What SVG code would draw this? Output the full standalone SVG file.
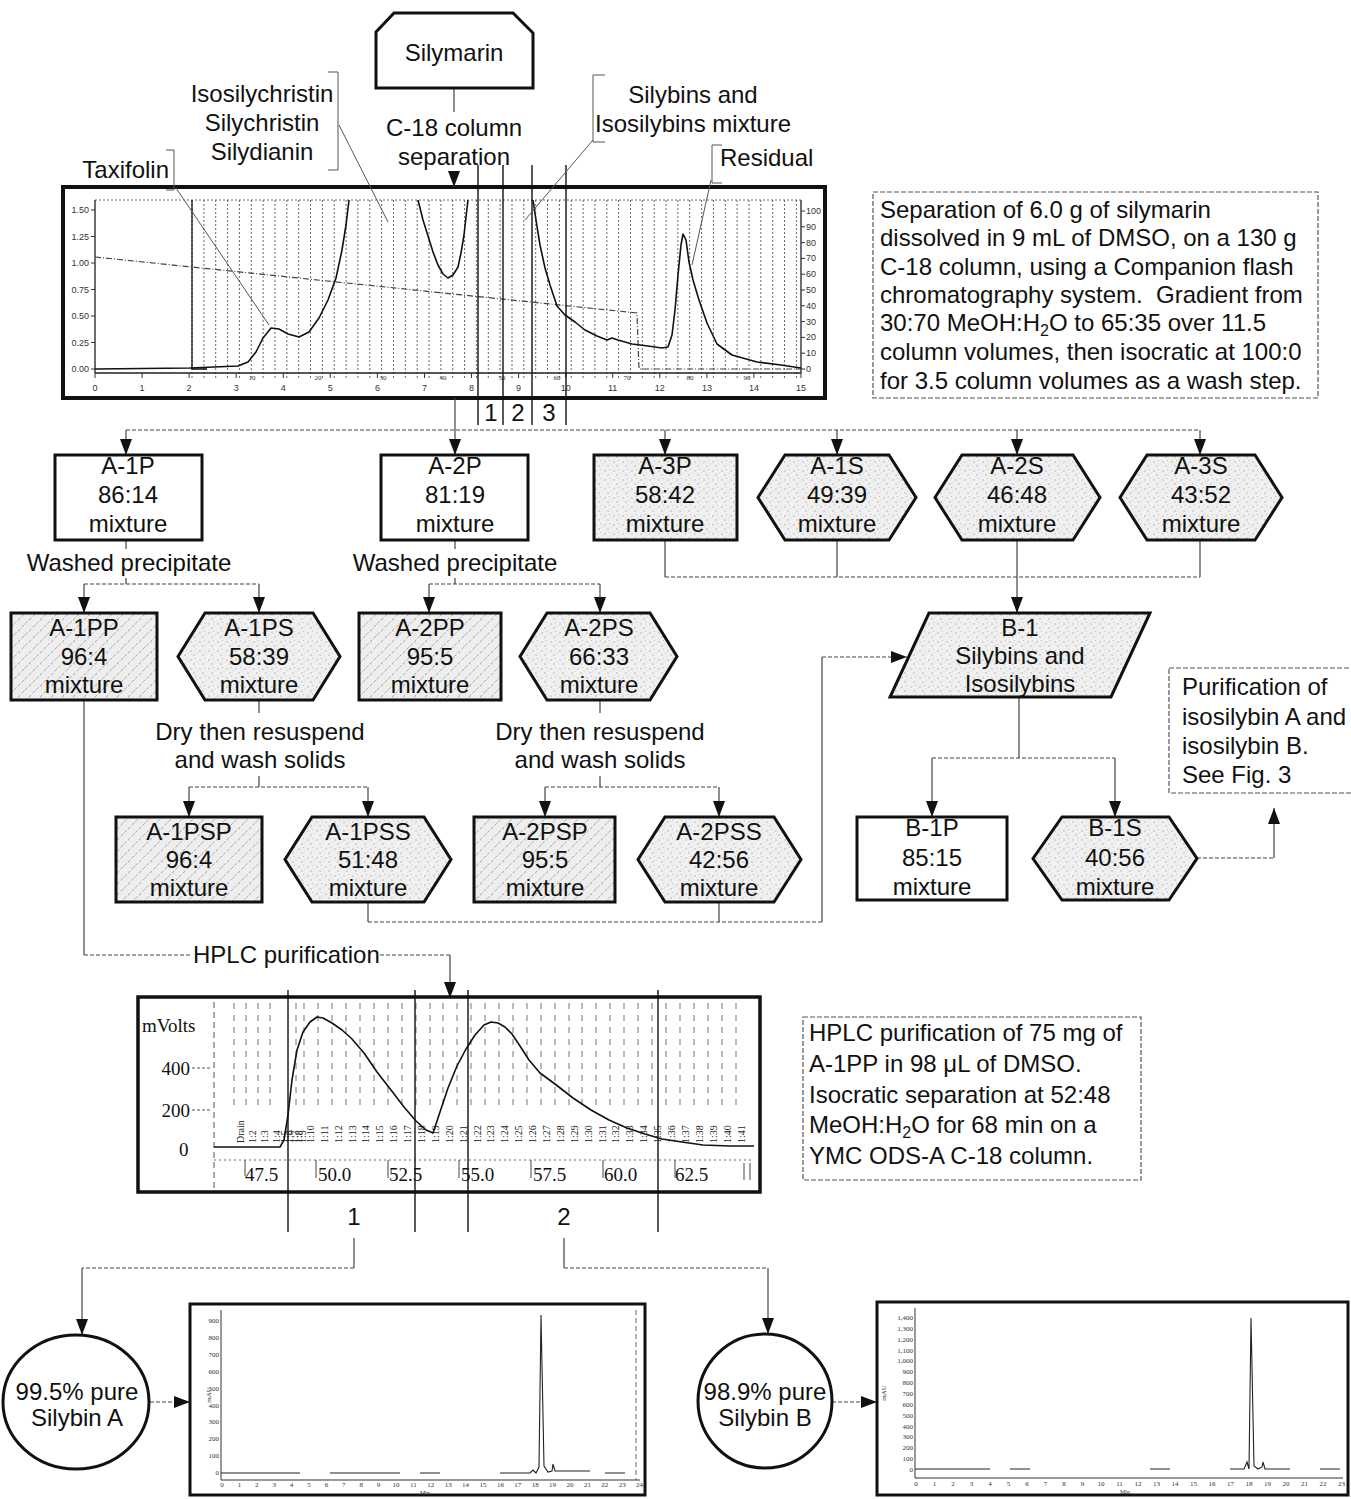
<svg xmlns="http://www.w3.org/2000/svg" width="1351" height="1499" viewBox="0 0 1351 1499">
<style>
.t{font-family:"Liberation Sans",Arial,sans-serif;font-size:24px;fill:#111}
.c{text-anchor:middle}
.e{text-anchor:end}
.pre{white-space:pre}
.sf{font-family:"Liberation Serif","Times New Roman",serif;font-size:19px;fill:#111}
.sm{font-family:"Liberation Sans",Arial,sans-serif;font-size:9px;fill:#333}
.xs{font-family:"Liberation Serif","Times New Roman",serif;font-size:7px;fill:#333}
.fr{font-family:"Liberation Serif","Times New Roman",serif;font-size:10px;fill:#222}
.node{stroke:#111;stroke-width:3;stroke-linejoin:miter}
.conn{stroke:#444;stroke-width:1.2;fill:none}
.dot{stroke-dasharray:4 2}
.arr{marker-end:url(#ah)}
.lead{stroke:#555;stroke-width:1;fill:none}
.note{fill:#fff;stroke:#555;stroke-width:1.2;stroke-dasharray:5 2}
.frame{fill:#fff;stroke:#111}
.curve{fill:none;stroke:#111;stroke-width:1.6;stroke-linejoin:round}
.grid{fill:none;stroke:#666;stroke-width:1;stroke-dasharray:2 2}
.cut{stroke:#111;stroke-width:1.4;fill:none}
</style>
<defs>
<pattern id="stip" width="9" height="9" patternUnits="userSpaceOnUse">
<rect width="9" height="9" fill="#f0f0f0"/>
<circle cx="2" cy="3" r="0.7" fill="#aaa"/>
<circle cx="6.5" cy="1.5" r="0.6" fill="#bbb"/>
<circle cx="5" cy="7" r="0.7" fill="#a5a5a5"/>
<circle cx="8" cy="5" r="0.5" fill="#c5c5c5"/>
</pattern>
<pattern id="hatch" width="11" height="11" patternUnits="userSpaceOnUse">
<rect width="11" height="11" fill="#eeeeee"/>
<circle cx="3" cy="8" r="0.6" fill="#bbb"/>
<circle cx="8" cy="4" r="0.6" fill="#bbb"/>
<path d="M-1 1L1 -1M0 11L11 0M10 12L12 10" stroke="#9a9a9a" stroke-width="0.8" stroke-dasharray="3 2"/>
</pattern>
<marker id="ah" viewBox="0 0 16 12" refX="16" refY="6" markerWidth="16" markerHeight="12" markerUnits="userSpaceOnUse" orient="auto">
<path d="M0,0L16,6L0,12z" fill="#111"/>
</marker>
</defs>

<rect width="1351" height="1499" fill="#fff"/>

<!-- Top chromatogram -->
<g id="chart1">
<rect class="frame" x="63" y="187" width="762" height="211" stroke-width="4"/>
<path class="grid" d="M192 200V378M203.9 200V378M215.7 200V378M227.6 200V378M239.4 200V378M251.3 200V378M263.1 200V378M275 200V378M286.8 200V378M298.7 200V378M310.5 200V378M322.4 200V378M334.2 200V378M346.1 200V378M357.9 200V378M369.8 200V378M381.6 200V378M393.5 200V378M405.3 200V378M417.2 200V378M429 200V378M440.9 200V378M452.7 200V378M464.6 200V378M476.4 200V378M488.3 200V378M500.1 200V378M512 200V378M523.8 200V378M535.7 200V378M547.5 200V378M559.4 200V378M571.2 200V378M583.1 200V378M594.9 200V378M606.8 200V378M618.6 200V378M630.5 200V378M642.3 200V378M654.2 200V378M666 200V378M677.9 200V378M689.7 200V378M701.6 200V378M713.4 200V378M725.3 200V378M737.1 200V378M749 200V378M760.8 200V378M772.7 200V378M784.5 200V378M796.4 200V378"/>
<path class="grid" d="M95 200H801"/>
<path d="M95 200V373M801 200V373M95 373H801" stroke="#222" stroke-width="1.3" fill="none"/>
<path d="M91 210H95M91 236.5H95M91 263H95M91 289.5H95M91 316H95M91 342.5H95M91 369H95M801 211H805M801 226.8H805M801 242.6H805M801 258.4H805M801 274.2H805M801 290H805M801 305.8H805M801 321.6H805M801 337.4H805M801 353.2H805M801 369H805M95 373V378M142.1 373V378M189.1 373V378M236.2 373V378M283.3 373V378M330.3 373V378M377.4 373V378M424.5 373V378M471.5 373V378M518.6 373V378M565.7 373V378M612.7 373V378M659.8 373V378M706.9 373V378M753.9 373V378M801 373V378" stroke="#333" stroke-width="1"/>
<path d="M192 200V369H207" stroke="#111" stroke-width="1.3" fill="none"/>
<path d="M95 257L637 313L639 369H801" fill="none" stroke="#444" stroke-width="1.2" stroke-dasharray="6 2 1 2"/>
<path class="curve" d="M95 369L190 368L238 366L248 362L256 352L263 338L271 328L279 329L288 334L299 337L309 332L319 318L328 300L336 278L342 250L346 225L349 200M418 200L423 220L428 236L433 252L438 265L443 274L448 278L453 275L458 267L461 253L464 235L466 217L468 200M533 200L536 220L540 245L545 268L550 285L557 306L565 315L575 322L585 330L597 336L607 340L612 338L618 340L632 344L648 346L662 348L668 347L672 335L675 310L678 275L681 245L683 234L686 240L689 262L693 280L699 300L707 323L717 344L732 355L757 362L781 365L801 368"/>
<g class="sm e">
<text x="89" y="213">1.50</text><text x="89" y="239.5">1.25</text><text x="89" y="266">1.00</text><text x="89" y="292.5">0.75</text><text x="89" y="319">0.50</text><text x="89" y="345.5">0.25</text><text x="89" y="372">0.00</text>
</g>
<g class="sm" font-size="8.5">
<text x="806" y="214">100</text><text x="806" y="229.8">90</text><text x="806" y="245.6">80</text><text x="806" y="261.4">70</text><text x="806" y="277.2">60</text><text x="806" y="293">50</text><text x="806" y="308.8">40</text><text x="806" y="324.6">30</text><text x="806" y="340.4">20</text><text x="806" y="356.2">10</text><text x="806" y="372">0</text>
</g>
<g class="sm c" font-size="10">
<text x="95" y="391">0</text><text x="142.1" y="391">1</text><text x="189.1" y="391">2</text><text x="236.2" y="391">3</text><text x="283.3" y="391">4</text><text x="330.3" y="391">5</text><text x="377.4" y="391">6</text><text x="424.5" y="391">7</text><text x="471.5" y="391">8</text><text x="518.6" y="391">9</text><text x="565.7" y="391">10</text><text x="612.7" y="391">11</text><text x="659.8" y="391">12</text><text x="706.9" y="391">13</text><text x="753.9" y="391">14</text><text x="801" y="391">15</text>
</g>
<g class="xs c" font-size="6">
<text x="252" y="380">10</text><text x="318" y="380">20</text><text x="383" y="380">30</text><text x="443" y="380">40</text><text x="502" y="380">50</text><text x="557" y="380">60</text><text x="627" y="380">70</text><text x="690" y="380">80</text><text x="747" y="380">90</text>
</g>
<path class="cut" d="M478 165V425M503 165V425M532 165V425M566 165V425"/>
<text class="t c" x="491" y="421">1</text>
<text class="t c" x="518" y="421">2</text>
<text class="t c" x="549" y="421">3</text>
</g>

<!-- Peak labels -->
<g id="label-taxifolin">
<text class="t e" x="169" y="178">Taxifolin</text>
<path class="lead" d="M166 150H174V190H166M176 188L269 325"/>
</g>
<g id="label-silychristin">
<text class="t c" x="262" y="102">Isosilychristin</text>
<text class="t c" x="262" y="131">Silychristin</text>
<text class="t c" x="262" y="160">Silydianin</text>
<path class="lead" d="M328 72H338V170H328M339 125L388 222"/>
</g>
<g id="label-silybins">
<text class="t c" x="693" y="103">Silybins and</text>
<text class="t c" x="693" y="132">Isosilybins mixture</text>
<path class="lead" d="M605 75H593V142H605M593 140L525 220"/>
</g>
<g id="label-residual">
<text class="t" x="720" y="166">Residual</text>
<path class="lead" d="M722 145H712V183H722M711 180L692 265"/>
</g>

<!-- Notes -->
<g id="note-separation">
<rect class="note" x="873" y="192" width="445" height="206"/>
<text class="t pre" x="880" y="218">Separation of 6.0 g of silymarin</text>
<text class="t pre" x="880" y="246">dissolved in 9 mL of DMSO, on a 130 g</text>
<text class="t pre" x="880" y="275">C-18 column, using a Companion flash</text>
<text class="t pre" x="880" y="303">chromatography system.  Gradient from</text>
<text class="t pre" x="880" y="331">30:70 MeOH:H<tspan font-size="16" dy="5">2</tspan><tspan dy="-5">O to 65:35 over 11.5</tspan></text>
<text class="t pre" x="880" y="360">column volumes, then isocratic at 100:0</text>
<text class="t pre" x="880" y="389">for 3.5 column volumes as a wash step.</text>
</g>
<g id="note-purification">
<rect class="note" x="1169" y="668" width="200" height="125"/>
<text class="t" x="1182" y="695">Purification of</text>
<text class="t" x="1182" y="725">isosilybin A and</text>
<text class="t" x="1182" y="754">isosilybin B.</text>
<text class="t" x="1182" y="783">See Fig. 3</text>
</g>
<g id="note-hplc">
<rect class="note" x="803" y="1017" width="338" height="163"/>
<text class="t" x="809" y="1041">HPLC purification of 75 mg of</text>
<text class="t" x="809" y="1072">A-1PP in 98 μL of DMSO.</text>
<text class="t" x="809" y="1103">Isocratic separation at 52:48</text>
<text class="t" x="809" y="1133">MeOH:H<tspan font-size="16" dy="5">2</tspan><tspan dy="-5">O for 68 min on a</tspan></text>
<text class="t" x="809" y="1164">YMC ODS-A C-18 column.</text>
</g>

<!-- Connectors -->
<g id="connectors">
<path class="conn" d="M454 88V112"/>
<text class="t c" x="454" y="136">C-18 column</text>
<text class="t c" x="454" y="165">separation</text>
<path class="conn arr" d="M454 171V187"/>
<path class="conn arr" d="M455 398V455"/>
<path class="conn dot" d="M126 430H1200"/>
<path class="conn arr" d="M126 430V455"/>
<path class="conn arr" d="M665 430V455"/>
<path class="conn arr" d="M837 430V455"/>
<path class="conn arr" d="M1017 430V455"/>
<path class="conn arr" d="M1200 430V455"/>
<path class="conn" d="M126 540V549M126 578V584M455 540V549M455 578V584"/>
<text class="t c" x="129" y="571">Washed precipitate</text>
<text class="t c" x="455" y="571">Washed precipitate</text>
<path class="conn dot" d="M84 584H259M429 584H600"/>
<path class="conn arr" d="M84 584V613"/>
<path class="conn arr" d="M259 584V613"/>
<path class="conn arr" d="M429 584V613"/>
<path class="conn arr" d="M600 584V613"/>
<path class="conn" d="M665 540V577M837 540V577M1200 540V577"/>
<path class="conn dot" d="M665 577H1200"/>
<path class="conn arr" d="M1017 540V613"/>
<path class="conn" d="M259 700V713M259 776V787M600 700V713M600 776V787"/>
<text class="t c" x="260" y="740">Dry then resuspend</text>
<text class="t c" x="260" y="768">and wash solids</text>
<text class="t c" x="600" y="740">Dry then resuspend</text>
<text class="t c" x="600" y="768">and wash solids</text>
<path class="conn dot" d="M189 787H368M545 787H719"/>
<path class="conn arr" d="M189 787V817"/>
<path class="conn arr" d="M368 787V817"/>
<path class="conn arr" d="M545 787V817"/>
<path class="conn arr" d="M719 787V817"/>
<path class="conn" d="M368 902V922M719 902V922"/>
<path class="conn dot" d="M368 922H822"/>
<path class="conn" d="M822 922V657"/>
<path class="conn dot arr" d="M822 657H907"/>
<path class="conn" d="M1019 697V758"/>
<path class="conn dot" d="M932 758H1115"/>
<path class="conn arr" d="M932 758V817"/>
<path class="conn arr" d="M1115 758V817"/>
<path class="conn dot" d="M1197 858H1274"/>
<path class="conn arr" d="M1274 858V808"/>
<path class="conn" d="M84 700V955"/>
<path class="conn dot" d="M84 955H190M380 955H450"/>
<text class="t" x="193" y="963">HPLC purification</text>
<path class="conn arr" d="M450 955V998"/>
<path class="conn" d="M354 1238V1268M564 1238V1268"/>
<path class="conn dot" d="M354 1268H82M564 1268H768"/>
<path class="conn arr" d="M82 1268V1335"/>
<path class="conn arr" d="M768 1268V1334"/>
<path class="conn dot arr" d="M150 1402H190"/>
<path class="conn dot arr" d="M832 1402H877"/>
</g>

<!-- Nodes -->
<g id="silymarin"><path class="node" d="M376 32L394 13H513L533 33V88H376Z" fill="#fff"/><text class="t c" x="454" y="61">Silymarin</text></g>

<g id="A-1P"><rect class="node" x="55" y="455" width="147" height="85" fill="#fff"/><text class="t c" x="128" y="474">A-1P</text><text class="t c" x="128" y="503">86:14</text><text class="t c" x="128" y="532">mixture</text></g>
<g id="A-2P"><rect class="node" x="381" y="455" width="147" height="85" fill="#fff"/><text class="t c" x="455" y="474">A-2P</text><text class="t c" x="455" y="503">81:19</text><text class="t c" x="455" y="532">mixture</text></g>
<g id="A-3P"><rect class="node" x="594" y="455" width="143" height="85" fill="url(#stip)"/><text class="t c" x="665" y="474">A-3P</text><text class="t c" x="665" y="503">58:42</text><text class="t c" x="665" y="532">mixture</text></g>
<g id="A-1S"><path class="node" d="M758 497.5L785 455H889L916 497.5L889 540H785Z" fill="url(#stip)"/><text class="t c" x="837" y="474">A-1S</text><text class="t c" x="837" y="503">49:39</text><text class="t c" x="837" y="532">mixture</text></g>
<g id="A-2S"><path class="node" d="M935 497.5L962 455H1073L1100 497.5L1073 540H962Z" fill="url(#stip)"/><text class="t c" x="1017" y="474">A-2S</text><text class="t c" x="1017" y="503">46:48</text><text class="t c" x="1017" y="532">mixture</text></g>
<g id="A-3S"><path class="node" d="M1120 497.5L1147 455H1255L1282 497.5L1255 540H1147Z" fill="url(#stip)"/><text class="t c" x="1201" y="474">A-3S</text><text class="t c" x="1201" y="503">43:52</text><text class="t c" x="1201" y="532">mixture</text></g>

<g id="A-1PP"><rect class="node" x="11" y="613" width="146" height="87" fill="url(#hatch)"/><text class="t c" x="84" y="636">A-1PP</text><text class="t c" x="84" y="665">96:4</text><text class="t c" x="84" y="693">mixture</text></g>
<g id="A-1PS"><path class="node" d="M178 656.5L205 613H313L340 656.5L313 700H205Z" fill="url(#stip)"/><text class="t c" x="259" y="636">A-1PS</text><text class="t c" x="259" y="665">58:39</text><text class="t c" x="259" y="693">mixture</text></g>
<g id="A-2PP"><rect class="node" x="359" y="613" width="142" height="87" fill="url(#hatch)"/><text class="t c" x="430" y="636">A-2PP</text><text class="t c" x="430" y="665">95:5</text><text class="t c" x="430" y="693">mixture</text></g>
<g id="A-2PS"><path class="node" d="M520 656.5L547 613H650L677 656.5L650 700H547Z" fill="url(#stip)"/><text class="t c" x="599" y="636">A-2PS</text><text class="t c" x="599" y="665">66:33</text><text class="t c" x="599" y="693">mixture</text></g>
<g id="B-1"><path class="node" d="M929 613H1150L1111 697H890Z" fill="url(#stip)"/><text class="t c" x="1020" y="636">B-1</text><text class="t c" x="1020" y="664">Silybins and</text><text class="t c" x="1020" y="692">Isosilybins</text></g>

<g id="A-1PSP"><rect class="node" x="116" y="817" width="146" height="85" fill="url(#hatch)"/><text class="t c" x="189" y="840">A-1PSP</text><text class="t c" x="189" y="868">96:4</text><text class="t c" x="189" y="896">mixture</text></g>
<g id="A-1PSS"><path class="node" d="M285 859.5L312 817H424L451 859.5L424 902H312Z" fill="url(#stip)"/><text class="t c" x="368" y="840">A-1PSS</text><text class="t c" x="368" y="868">51:48</text><text class="t c" x="368" y="896">mixture</text></g>
<g id="A-2PSP"><rect class="node" x="474" y="817" width="141" height="85" fill="url(#hatch)"/><text class="t c" x="545" y="840">A-2PSP</text><text class="t c" x="545" y="868">95:5</text><text class="t c" x="545" y="896">mixture</text></g>
<g id="A-2PSS"><path class="node" d="M638 859.5L665 817H774L801 859.5L774 902H665Z" fill="url(#stip)"/><text class="t c" x="719" y="840">A-2PSS</text><text class="t c" x="719" y="868">42:56</text><text class="t c" x="719" y="896">mixture</text></g>
<g id="B-1P"><rect class="node" x="857" y="817" width="150" height="83" fill="#fff"/><text class="t c" x="932" y="836">B-1P</text><text class="t c" x="932" y="866">85:15</text><text class="t c" x="932" y="895">mixture</text></g>
<g id="B-1S"><path class="node" d="M1033 858.5L1062 817H1169L1197 858.5L1169 900H1062Z" fill="url(#stip)"/><text class="t c" x="1115" y="836">B-1S</text><text class="t c" x="1115" y="866">40:56</text><text class="t c" x="1115" y="895">mixture</text></g>

<!-- HPLC chart -->
<g id="hplc-chart">
<rect class="frame" x="138" y="997" width="622" height="195" stroke-width="3.5"/>
<path d="M214 1002V1188" stroke="#555" stroke-width="1" stroke-dasharray="6 4"/>
<path d="M234 1003V1108M246 1003V1108M258 1003V1108M270 1003V1108M296 1003V1108M304 1003V1108M318 1003V1108M332 1003V1108M346 1003V1108M360 1003V1108M374 1003V1108M388 1003V1108M402 1003V1108M416 1003V1108M430 1003V1108M443 1003V1108M457 1003V1108M471 1003V1108M485 1003V1108M499 1003V1108M513 1003V1108M527 1003V1108M541 1003V1108M555 1003V1108M569 1003V1108M582 1003V1108M596 1003V1108M610 1003V1108M624 1003V1108M638 1003V1108M652 1003V1108M666 1003V1108M680 1003V1108M694 1003V1108M708 1003V1108M722 1003V1108M736 1003V1108" stroke="#777" stroke-width="1" stroke-dasharray="6 6"/>
<path d="M192 1068H212M192 1110H212" stroke="#555" stroke-width="1" stroke-dasharray="3 2"/>
<text class="sf" x="142" y="1032">mVolts</text>
<text class="sf e" x="190" y="1075">400</text>
<text class="sf e" x="190" y="1117">200</text>
<text class="sf" x="179" y="1156">0</text>
<path d="M214 1160H754" stroke="#666" stroke-width="1" stroke-dasharray="2 3"/>
<path d="M245 1160V1176M316 1160V1178M388 1160V1178M459 1160V1178M531 1160V1178M603 1160V1178M675 1160V1178M744 1163V1180M750 1163V1180" stroke="#444" stroke-width="1"/>
<g class="sf">
<text x="245" y="1181">47.5</text><text x="318" y="1181">50.0</text><text x="389" y="1181">52.5</text><text x="461" y="1181">55.0</text><text x="533" y="1181">57.5</text><text x="604" y="1181">60.0</text><text x="675" y="1181">62.5</text>
</g>
<g class="fr">
<text transform="translate(244 1143) rotate(-90)">Drain</text>
<text transform="translate(256 1143) rotate(-90)">1:2</text>
<text transform="translate(268 1143) rotate(-90)">1:3</text>
<text transform="translate(280 1143) rotate(-90)">1:4</text>
<text transform="translate(288 1143) rotate(-90)">1:5</text>
<text transform="translate(293 1143) rotate(-90)">1:6</text>
<text transform="translate(298 1143) rotate(-90)">1:7</text>
<text transform="translate(302 1143) rotate(-90)">1:8</text>
<text transform="translate(306 1143) rotate(-90)">1:9</text>
<text transform="translate(314 1143) rotate(-90)">1:10</text>
<text transform="translate(328 1143) rotate(-90)">1:11</text>
<text transform="translate(342 1143) rotate(-90)">1:12</text>
<text transform="translate(356 1143) rotate(-90)">1:13</text>
<text transform="translate(369 1143) rotate(-90)">1:14</text>
<text transform="translate(383 1143) rotate(-90)">1:15</text>
<text transform="translate(397 1143) rotate(-90)">1:16</text>
<text transform="translate(411 1143) rotate(-90)">1:17</text>
<text transform="translate(425 1143) rotate(-90)">1:18</text>
<text transform="translate(439 1143) rotate(-90)">1:19</text>
<text transform="translate(453 1143) rotate(-90)">1:20</text>
<text transform="translate(467 1143) rotate(-90)">1:21</text>
<text transform="translate(481 1143) rotate(-90)">1:22</text>
<text transform="translate(494 1143) rotate(-90)">1:23</text>
<text transform="translate(508 1143) rotate(-90)">1:24</text>
<text transform="translate(522 1143) rotate(-90)">1:25</text>
<text transform="translate(536 1143) rotate(-90)">1:26</text>
<text transform="translate(550 1143) rotate(-90)">1:27</text>
<text transform="translate(564 1143) rotate(-90)">1:28</text>
<text transform="translate(578 1143) rotate(-90)">1:29</text>
<text transform="translate(592 1143) rotate(-90)">1:30</text>
<text transform="translate(606 1143) rotate(-90)">1:31</text>
<text transform="translate(619 1143) rotate(-90)">1:32</text>
<text transform="translate(633 1143) rotate(-90)">1:33</text>
<text transform="translate(647 1143) rotate(-90)">1:34</text>
<text transform="translate(661 1143) rotate(-90)">1:35</text>
<text transform="translate(675 1143) rotate(-90)">1:36</text>
<text transform="translate(689 1143) rotate(-90)">1:37</text>
<text transform="translate(703 1143) rotate(-90)">1:38</text>
<text transform="translate(717 1143) rotate(-90)">1:39</text>
<text transform="translate(731 1143) rotate(-90)">1:40</text>
<text transform="translate(745 1143) rotate(-90)">1:41</text>
</g>
<path class="curve" stroke-width="2" d="M214 1147H280L284 1140L288 1115L292 1080L297 1050L303 1032L310 1022L317 1017L323 1018L332 1023L342 1030L352 1039L364 1053L377 1072L391 1090L404 1107L416 1121L426 1130L433 1133L440 1112L448 1088L457 1066L466 1049L475 1035L484 1025L491 1022L498 1023L505 1027L512 1034L520 1046L529 1060L540 1073L555 1084L573 1098L591 1110L609 1120L627 1128L645 1134L662 1139L682 1142L703 1145L730 1146L754 1146"/>
<path class="cut" d="M288 990V1232M415 990V1232M468 990V1232M658 990V1232"/>
<text class="t c" x="354" y="1225">1</text>
<text class="t c" x="564" y="1225">2</text>
</g>

<!-- Products -->
<g id="silybin-A"><ellipse class="node" cx="76" cy="1402" rx="73" ry="67" fill="#fff" stroke-width="2.5"/><text class="t c" x="77" y="1400">99.5% pure</text><text class="t c" x="77" y="1426">Silybin A</text></g>
<g id="silybin-B"><ellipse class="node" cx="765" cy="1401" rx="67" ry="67" fill="#fff" stroke-width="2.5"/><text class="t c" x="765" y="1400">98.9% pure</text><text class="t c" x="765" y="1426">Silybin B</text></g>

<g id="chrom-A">
<rect class="frame" x="190" y="1304" width="455" height="191" stroke-width="3"/>
<path d="M221 1310V1480M221 1480H640" stroke="#333" stroke-width="1" fill="none"/>
<path d="M636 1310V1480" stroke="#666" stroke-width="1" stroke-dasharray="5 3"/>
<path d="M221 1473H300M330 1473H400M420 1473H440M500 1473H530L533 1470L536 1473L539 1467L541 1315L544 1466L548 1472L552 1471L553 1464L555 1471H590M605 1473H625" fill="none" stroke="#222" stroke-width="1.1"/>
<g class="xs e">
<text x="219" y="1323">900</text><text x="219" y="1340">800</text><text x="219" y="1357">700</text><text x="219" y="1374">600</text><text x="219" y="1391">500</text><text x="219" y="1408">400</text><text x="219" y="1424">300</text><text x="219" y="1441">200</text><text x="219" y="1458">100</text><text x="219" y="1475">0</text>
</g>
<text class="xs c" transform="translate(211 1395) rotate(-90)">mAU</text>
<g class="xs c">
<text x="222" y="1487">0</text><text x="239.4" y="1487">1</text><text x="256.8" y="1487">2</text><text x="274.2" y="1487">3</text><text x="291.6" y="1487">4</text><text x="309" y="1487">5</text><text x="326.4" y="1487">6</text><text x="343.8" y="1487">7</text><text x="361.2" y="1487">8</text><text x="378.6" y="1487">9</text><text x="396" y="1487">10</text><text x="413.4" y="1487">11</text><text x="430.8" y="1487">12</text><text x="448.2" y="1487">13</text><text x="465.6" y="1487">14</text><text x="483" y="1487">15</text><text x="500.4" y="1487">16</text><text x="517.8" y="1487">17</text><text x="535.2" y="1487">18</text><text x="552.6" y="1487">19</text><text x="570" y="1487">20</text><text x="587.4" y="1487">21</text><text x="604.8" y="1487">22</text><text x="622.2" y="1487">23</text><text x="639.6" y="1487">24</text>
<text x="425" y="1494.5" font-size="6">Min</text>
</g>
</g>

<g id="chrom-B">
<rect class="frame" x="877" y="1302" width="471" height="193" stroke-width="3"/>
<path d="M915 1308V1478M915 1478H1343" stroke="#333" stroke-width="1" fill="none"/>
<path d="M1230 1469H1244L1247 1462L1249 1469L1251 1318L1254 1466L1258 1469L1262 1467L1263 1462L1265 1469H1290M915 1469H990M1010 1469H1030M1150 1469H1170M1320 1469H1340" fill="none" stroke="#222" stroke-width="1.1"/>
<g class="xs e">
<text x="913" y="1320">1,400</text><text x="913" y="1331">1,300</text><text x="913" y="1342">1,200</text><text x="913" y="1353">1,100</text><text x="913" y="1363">1,000</text><text x="913" y="1374">900</text><text x="913" y="1385">800</text><text x="913" y="1396">700</text><text x="913" y="1407">600</text><text x="913" y="1418">500</text><text x="913" y="1429">400</text><text x="913" y="1439">300</text><text x="913" y="1450">200</text><text x="913" y="1461">100</text><text x="913" y="1472">0</text>
</g>
<text class="xs c" transform="translate(886 1393) rotate(-90)">mAU</text>
<g class="xs c">
<text x="916" y="1486">0</text><text x="934.5" y="1486">1</text><text x="953" y="1486">2</text><text x="971.5" y="1486">3</text><text x="990" y="1486">4</text><text x="1008.5" y="1486">5</text><text x="1027" y="1486">6</text><text x="1045.5" y="1486">7</text><text x="1064" y="1486">8</text><text x="1082.5" y="1486">9</text><text x="1101" y="1486">10</text><text x="1119.5" y="1486">11</text><text x="1138" y="1486">12</text><text x="1156.5" y="1486">13</text><text x="1175" y="1486">14</text><text x="1193.5" y="1486">15</text><text x="1212" y="1486">16</text><text x="1230.5" y="1486">17</text><text x="1249" y="1486">18</text><text x="1267.5" y="1486">19</text><text x="1286" y="1486">20</text><text x="1304.5" y="1486">21</text><text x="1323" y="1486">22</text><text x="1341.5" y="1486">23</text>
<text x="1125" y="1494" font-size="6">Min</text>
</g>
</g>
</svg>
